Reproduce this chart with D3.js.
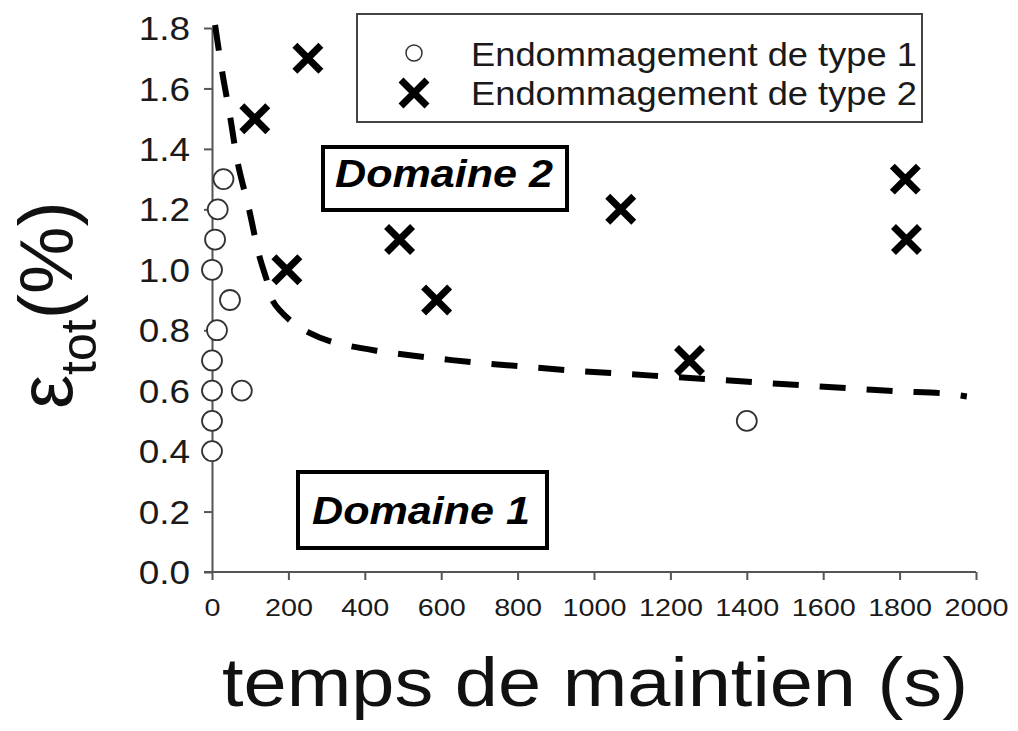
<!DOCTYPE html>
<html><head><meta charset="utf-8">
<script src="https://d3js.org/d3.v7.min.js"></script>
<style>body{margin:0;background:#fff}svg{display:block}text{font-family:"Liberation Sans",Arial,sans-serif}</style>
</head><body>
<script>
// ---- data ----
const xTicks = [0,200,400,600,800,1000,1200,1400,1600,1800,2000];
const yTicks = [0.0,0.2,0.4,0.6,0.8,1.0,1.2,1.4,1.6,1.8];
const type1T = [30,15,8,0,47,13,0,0,78,0,0,1400];
const type1E = [1.3,1.2,1.1,1.0,0.9,0.8,0.7,0.6,0.6,0.5,0.4,0.5];
const type2T = [251,112,196,491,588,1070,1250,1815,1818];
const type2E = [1.7,1.5,1.0,1.1,0.9,1.2,0.7,1.3,1.1];
const curveT = [8,26,47,68,97,123,144,159,207,251,316,437,559,682,805,928,1051,1174,1297,1420,1542,1665,1791,1914,1976];
const curveE = [1.81,1.66,1.51,1.35,1.20,1.05,0.963,0.897,0.830,0.794,0.761,0.731,0.711,0.694,0.681,0.668,0.658,0.648,0.638,0.628,0.618,0.608,0.598,0.591,0.581];
const legendLabels = ["Endommagement de type 1","Endommagement de type 2"];
const domainLabels = ["Domaine 2","Domaine 1"];

const W=1018,H=731;
const svg=d3.select("body").append("svg").attr("width",W).attr("height",H);
const x=d3.scaleLinear().domain([0,2000]).range([212,976]);
const y=d3.scaleLinear().domain([0,1.8]).range([572,28]);
const axisColor="#555";

// x axis
const gx=svg.append("g").attr("transform","translate(0,572)")
  .call(d3.axisBottom(x).tickValues(xTicks).tickFormat(d3.format("d")).tickSizeInner(8).tickSizeOuter(0).tickPadding(20));
gx.select(".domain").attr("stroke",axisColor).attr("stroke-width",2).attr("d","M204,0H976");
gx.selectAll(".tick line").attr("stroke",axisColor).attr("stroke-width",2);
gx.selectAll(".tick text").attr("font-size",23).attr("fill","#1a1a1a")
  .attr("transform","scale(1.25,1)");

// y axis
const gy=svg.append("g").attr("transform","translate(212,0)")
  .call(d3.axisLeft(y).tickValues(yTicks).tickFormat(d3.format(".1f")).tickSizeInner(8).tickSizeOuter(0));
gy.select(".domain").attr("stroke",axisColor).attr("stroke-width",2);
gy.selectAll(".tick line").attr("stroke",axisColor).attr("stroke-width",2);
gy.selectAll(".tick text").attr("font-size",33).attr("fill","#1a1a1a").attr("x",0)
  .attr("transform","translate(-22,1) scale(1.12,1)");

// dashed curve
const line=d3.line().x((d,i)=>x(curveT[i])).y((d,i)=>y(curveE[i])).curve(d3.curveCatmullRom);
svg.append("path").datum(curveT).attr("d",line).attr("fill","none").attr("stroke","#000")
  .attr("stroke-width",6).attr("stroke-dasharray","26,21");

// type 1 circles
svg.selectAll("circle.t1").data(type1T).join("circle").attr("class","t1")
  .attr("cx",(d)=>x(d)).attr("cy",(d,i)=>y(type1E[i])).attr("r",10)
  .attr("fill","#fff").attr("stroke","#333").attr("stroke-width",1.8);

// type 2 crosses
const cs=13;
const crossPath=(cx,cy,s)=>`M${cx-s},${cy-s}L${cx+s},${cy+s}M${cx-s},${cy+s}L${cx+s},${cy-s}`;
svg.selectAll("path.t2").data(type2T).join("path").attr("class","t2")
  .attr("d",(d,i)=>crossPath(x(d),y(type2E[i]),cs))
  .attr("stroke","#000").attr("stroke-width",7).attr("fill","none");

// legend
const lg=svg.append("g");
lg.append("rect").attr("x",357).attr("y",14).attr("width",565).attr("height",108)
  .attr("fill","#fff").attr("stroke","#444").attr("stroke-width",2);
lg.append("circle").attr("cx",414).attr("cy",53).attr("r",8).attr("fill","#fff").attr("stroke","#333").attr("stroke-width",1.5);
lg.append("path").attr("d",crossPath(414,93,13)).attr("stroke","#000").attr("stroke-width",7);
lg.selectAll("text").data(legendLabels).join("text").attr("x",471).attr("y",(d,i)=>[66,105][i])
  .attr("font-size",33).attr("fill","#1a1a1a").attr("textLength",446).attr("lengthAdjust","spacingAndGlyphs").text(d=>d);

// domain boxes
const boxes=[{x0:323,y0:147,x1:567,y1:210,tx:335,ty:187},{x0:298,y0:472,x1:547,y1:548,tx:312,ty:524}];
boxes.forEach((b,i)=>{
  svg.append("rect").attr("x",b.x0).attr("y",b.y0).attr("width",b.x1-b.x0).attr("height",b.y1-b.y0)
    .attr("fill","#fff").attr("stroke","#000").attr("stroke-width",4);
  svg.append("text").attr("x",b.tx).attr("y",b.ty).attr("font-size",38).attr("font-weight","bold")
    .attr("font-style","italic").attr("textLength",218).attr("lengthAdjust","spacingAndGlyphs").text(domainLabels[i]);
});

// x title
svg.append("text").attr("x",222).attr("y",706).attr("font-size",68).attr("fill","#111")
  .attr("textLength",746).attr("lengthAdjust","spacingAndGlyphs").text("temps de maintien (s)");

// y title
const yt=svg.append("text").attr("transform","translate(72,305) rotate(-90)").attr("text-anchor","middle")
  .attr("font-size",76).attr("fill","#111");
yt.append("tspan").text("ε");
yt.append("tspan").attr("font-size",50).attr("dy",24).text("tot");
yt.append("tspan").attr("dy",-24).text("(%)");
</script>
</body></html>
